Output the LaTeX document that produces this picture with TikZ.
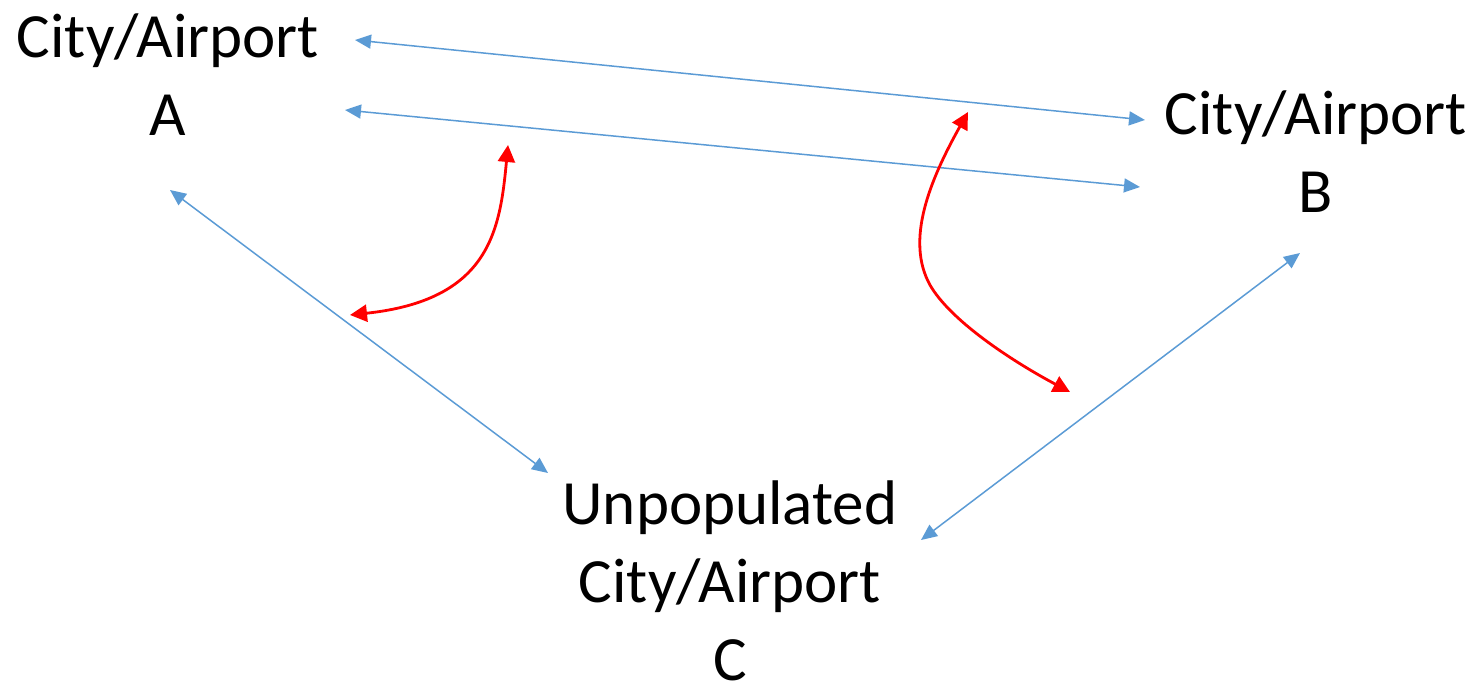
\documentclass[tikz,border=0pt]{standalone}
\usepackage{fontspec}
\setmainfont{Carlito}
\usetikzlibrary{arrows.meta}
\definecolor{linkblue}{HTML}{5B9BD5}
\tikzset{
  city/.style={align=center, inner sep=0pt, font=\fontsize{63}{78}\selectfont},
  route/.style={draw=linkblue, line width=1.5pt, {Triangle[length=16pt,width=14pt]}-{Triangle[length=16pt,width=14pt]}},
  swap/.style={draw=red, line width=2.8pt, {Triangle[length=17pt,width=17pt]}-{Triangle[length=17pt,width=17pt]}}
}
\begin{document}
\begin{tikzpicture}[x=1pt,y=-1pt]
  \useasboundingbox (0,0) rectangle (1482,686);
  % cities (anchored on the baseline of the last line)
  \node[city, anchor=base] (A) at (168,135) {City/Airport\\A};
  \node[city, anchor=base] (B) at (1316,212) {City/Airport\\B};
  \node[city, anchor=base] (C) at (730,680) {Unpopulated\\City/Airport\\C};
  % route end points
  \coordinate (a1) at (355,40);   \coordinate (b1) at (1145,120);
  \coordinate (a2) at (345,110);  \coordinate (b2) at (1140,187);
  \coordinate (a3) at (170,190);  \coordinate (c3) at (548,473);
  \coordinate (c4) at (921,540);  \coordinate (b4) at (1300,253);
  \draw[route] (a1) -- (b1);
  \draw[route] (a2) -- (b2);
  \draw[route] (a3) -- (c3);
  \draw[route] (c4) -- (b4);
  % reassignment arrows
  \coordinate (r1s) at (350,315); \coordinate (r1e) at (508,145);
  \coordinate (r2s) at (968,112); \coordinate (r2m) at (930,285); \coordinate (r2e) at (1070,392);
  \draw[swap] (r1s) .. controls (490,300) and (500,230) .. (r1e);
  \draw[swap] (r2s) .. controls (930,180) and (905,240) .. (r2m) .. controls (950,320) and (1010,360) .. (r2e);
\end{tikzpicture}
\end{document}
